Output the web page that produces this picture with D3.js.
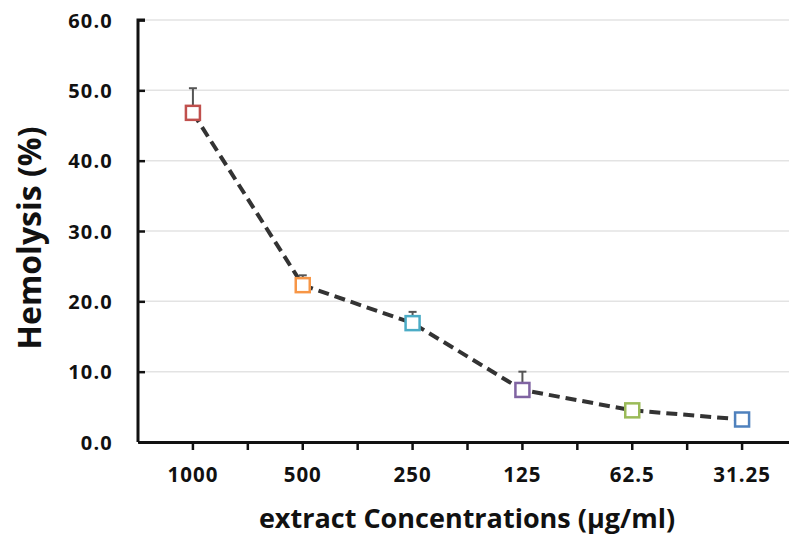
<!DOCTYPE html>
<html>
<head>
<meta charset="utf-8">
<script src="https://cdn.jsdelivr.net/npm/d3@7"></script>
<style>
  body { margin: 0; background: #fff; }
  text { font-family: "Open Sans", Lato, sans-serif; font-weight: bold; fill: #111; }
</style>
</head>
<body>
<svg id="chart" width="789" height="535"></svg>
<script>
// datos
var concentraciones = ["1000", "500", "250", "125", "62.5", "31.25"];
var hemolisis = [46.8, 22.3, 16.9, 7.4, 4.5, 3.2];
var errores = [3.5, 1.4, 1.6, 2.6, 0.9, 0.4];
var colores = ["#C0504D", "#F79646", "#4BACC6", "#8064A2", "#9BBB59", "#4F81BD"];
var ticksY = [0, 10, 20, 30, 40, 50, 60];

var svg = d3.select("#chart");
var margen = { left: 138, right: 797, top: 20, bottom: 442 };

var x = d3.scaleBand().domain(concentraciones).range([margen.left, margen.right]);
var y = d3.scaleLinear().domain([0, 60]).range([margen.bottom, margen.top]);

// lineas de la cuadricula
svg.append("g")
    .selectAll("line")
    .data(ticksY.slice(1))
    .enter()
    .append("line")
    .attr("x1", margen.left)
    .attr("x2", margen.right)
    .attr("y1", d => y(d))
    .attr("y2", d => y(d))
    .attr("stroke", "#e3e3e3")
    .attr("stroke-width", 1.5);

// eje Y
var ejeY = svg.append("g")
    .attr("transform", "translate(" + margen.left + ",0)")
    .call(d3.axisRight(y).tickValues(ticksY).tickSize(7).tickFormat(d3.format(".1f")));
ejeY.select(".domain").attr("stroke", "#111").attr("stroke-width", 3).attr("d", "M7," + y(60) + "H0V" + y(0));
ejeY.selectAll(".tick line").attr("stroke", "#111").attr("stroke-width", 2.5);
ejeY.selectAll(".tick text")
    .attr("x", -25)
    .attr("dy", "0.36em")
    .attr("text-anchor", "end")
    .style("font-size", "20px")
    .style("letter-spacing", "1.2px");

// eje X: marcas en el centro y en los bordes de cada categoria
var ejeX = svg.append("g")
    .attr("transform", "translate(0," + margen.bottom + ")")
    .call(d3.axisBottom(x).tickSize(8).tickSizeOuter(0));
ejeX.select(".domain").attr("stroke", "#111").attr("stroke-width", 3);
ejeX.selectAll(".tick line").attr("stroke", "#111").attr("stroke-width", 2.5);
ejeX.selectAll(".tick text")
    .attr("y", 40)
    .attr("dy", null)
    .style("font-size", "20.5px")
    .style("letter-spacing", "1px");

var bordes = concentraciones.slice(1).map(c => x(c));
ejeX.selectAll(".borde")
    .data(bordes)
    .enter()
    .append("line")
    .attr("class", "borde")
    .attr("x1", d => d)
    .attr("x2", d => d)
    .attr("y1", 0)
    .attr("y2", 8)
    .attr("stroke", "#111")
    .attr("stroke-width", 2.5);

var cx = d => x(d) + x.bandwidth() / 2;

// barras de error (solo hacia arriba)
var err = svg.append("g");
concentraciones.forEach(function (c, i) {
    var top = y(hemolisis[i] + errores[i]);
    err.append("line")
        .attr("x1", cx(c)).attr("x2", cx(c))
        .attr("y1", y(hemolisis[i])).attr("y2", top)
        .attr("stroke", "#555").attr("stroke-width", 2);
    err.append("line")
        .attr("x1", cx(c) - 4).attr("x2", cx(c) + 4)
        .attr("y1", top).attr("y2", top)
        .attr("stroke", "#555").attr("stroke-width", 2);
});

// linea discontinua
var linea = d3.line()
    .x((d, i) => cx(concentraciones[i]))
    .y(d => y(d));

svg.append("path")
    .datum(hemolisis)
    .attr("d", linea)
    .attr("fill", "none")
    .attr("stroke", "#333")
    .attr("stroke-width", 4)
    .attr("stroke-dasharray", "11,6");

// marcadores cuadrados
svg.selectAll(".marca")
    .data(hemolisis)
    .enter()
    .append("rect")
    .attr("class", "marca")
    .attr("x", (d, i) => cx(concentraciones[i]) - 7)
    .attr("y", d => y(d) - 7)
    .attr("width", 14)
    .attr("height", 14)
    .attr("fill", "#fff")
    .attr("stroke", (d, i) => colores[i])
    .attr("stroke-width", 2.5);

// titulos de los ejes
svg.append("text")
    .attr("transform", "translate(41," + 238 + ") rotate(-90)")
    .attr("text-anchor", "middle")
    .style("font-size", "32px")
    .text("Hemolysis (%)");

svg.append("text")
    .attr("x", 467)
    .attr("y", 528)
    .attr("text-anchor", "middle")
    .style("font-size", "27px")
    .text("extract Concentrations (µg/ml)");
</script>
</body>
</html>
